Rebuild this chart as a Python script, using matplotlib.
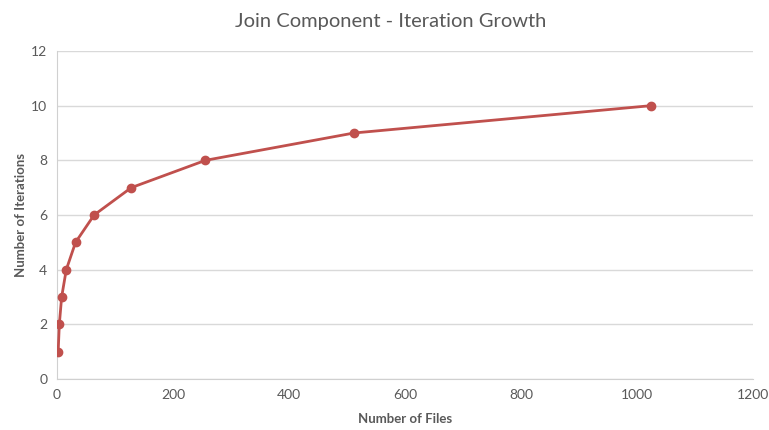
import matplotlib.pyplot as plt

num_files = [2, 4, 8, 16, 32, 64, 128, 256, 512, 1024]
iterations = [1, 2, 3, 4, 5, 6, 7, 8, 9, 10]

x_ticks = [0, 200, 400, 600, 800, 1000, 1200]
y_ticks = [0, 2, 4, 6, 8, 10, 12]

plt.rcParams['font.family'] = ['Lato', 'DejaVu Sans']

fig = plt.figure(figsize=(7.69, 4.30), dpi=100)
ax = fig.add_axes([57 / 769, 51 / 430, 696 / 769, 328 / 430])

ax.plot(num_files, iterations, color='#c0504d', linewidth=2,
        marker='o', markersize=6, zorder=3)

ax.set_xlim(0, 1200)
ax.set_ylim(0, 12)
ax.set_xticks(x_ticks)
ax.set_yticks(y_ticks)
ax.grid(axis='y', color='#d9d9d9', linewidth=1)
ax.set_axisbelow(True)

for side in ['top', 'right']:
    ax.spines[side].set_visible(False)
for side in ['left', 'bottom']:
    ax.spines[side].set_color('#d0d0d0')
ax.tick_params(length=0, colors='#595959', labelsize=10, pad=7)

ax.set_xlabel('Number of Files', fontsize=9.5, fontweight='bold',
              color='#595959', labelpad=9)
ax.set_ylabel('Number of Iterations', fontsize=9.5, fontweight='bold',
              color='#595959', labelpad=3)
fig.text(391 / 769, 1 - 21 / 430, 'Join Component - Iteration Growth',
         ha='center', va='center', fontsize=14.5, color='#595959')

fig.savefig('out.png', dpi=100)
